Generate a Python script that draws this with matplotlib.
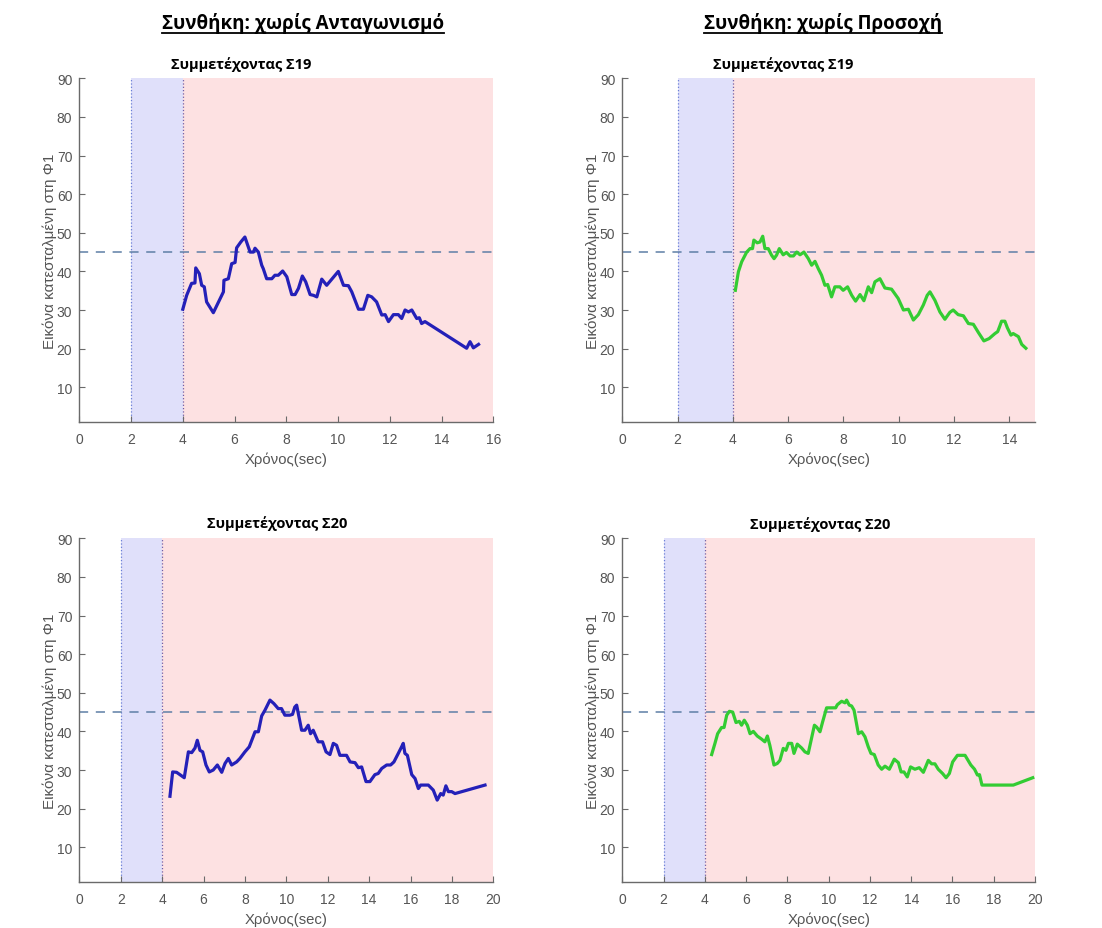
import numpy as np
import matplotlib.pyplot as plt
from matplotlib.lines import Line2D

plt.rcParams['font.family'] = ['Liberation Sans', 'DejaVu Sans']

# ======== data ========
# Σ19, condition: without competition (blue)
s19_comp_t = [4.0, 4.15, 4.34, 4.47, 4.5, 4.64, 4.73, 4.83, 4.92, 5.18, 5.57, 5.59, 5.76, 5.89,
              6.02, 6.08, 6.24, 6.4, 6.6, 6.73, 6.79, 6.92, 7.05, 7.11, 7.24, 7.44, 7.56, 7.69,
              7.86, 8.02, 8.21, 8.34, 8.47, 8.62, 8.75, 8.92, 9.05, 9.18, 9.37, 9.56, 9.76,
              10.01, 10.21, 10.4, 10.53, 10.79, 10.98, 11.15, 11.3, 11.49, 11.69, 11.82, 11.95,
              12.14, 12.33, 12.46, 12.59, 12.72, 12.85, 13.04, 13.14, 13.23, 13.36, 14.97,
              15.1, 15.23, 15.43]
s19_comp_v = [30.2, 33.8, 36.9, 37.0, 40.9, 39.4, 36.4, 36.0, 32.1, 29.3, 34.7, 37.7, 38.1, 42.0,
              42.3, 46.1, 47.6, 48.9, 45.0, 45.0, 46.0, 45.0, 41.6, 40.7, 38.1, 38.1, 39.0, 39.0,
              40.1, 38.6, 34.0, 34.0, 35.6, 38.8, 37.3, 34.0, 33.8, 33.4, 38.0, 36.4, 38.0,
              40.0, 36.4, 36.3, 34.7, 30.2, 30.2, 33.8, 33.4, 32.1, 28.7, 28.8, 27.0,
              28.8, 28.8, 27.8, 30.0, 29.5, 30.0, 27.8, 28.0, 26.5, 27.0, 20.1,
              21.8, 20.2, 21.1]

# Σ19, condition: without attention (green)
s19_att_t = [4.09, 4.2, 4.32, 4.5, 4.62, 4.71, 4.76, 4.88, 4.98, 5.08, 5.16, 5.28, 5.4, 5.49,
             5.58, 5.68, 5.82, 5.94, 6.07, 6.19, 6.31, 6.43, 6.57, 6.73, 6.85, 6.97, 7.09,
             7.21, 7.33, 7.43, 7.57, 7.69, 7.87, 7.99, 8.15, 8.3, 8.44, 8.6, 8.74, 8.9, 9.02,
             9.14, 9.32, 9.5, 9.74, 9.98, 10.17, 10.35, 10.53, 10.71, 10.89, 11.03, 11.13,
             11.31, 11.49, 11.67, 11.85, 11.97, 12.15, 12.34, 12.52, 12.7, 12.88, 13.08,
             13.27, 13.48, 13.58, 13.66, 13.72, 13.84, 13.93, 14.06, 14.14, 14.33, 14.45, 14.6]
s19_att_v = [35.1, 39.9, 42.5, 45.0, 45.9, 45.9, 48.1, 47.4, 47.6, 49.1, 45.9, 45.9, 44.2, 43.3,
             44.2, 45.9, 44.3, 44.9, 44.0, 44.0, 45.0, 44.3, 45.0, 43.3, 41.6, 42.6, 40.7,
             39.0, 36.4, 36.6, 33.4, 36.0, 36.0, 35.1, 36.0, 33.8, 32.3, 34.0, 32.4, 36.0, 34.5,
             37.3, 38.1, 35.7, 35.4, 33.0, 30.0, 30.2, 27.4, 28.8, 31.3, 33.8, 34.7,
             32.5, 29.5, 27.6, 29.4, 30.0, 28.8, 28.5, 26.5, 26.3, 24.2, 22.0,
             22.6, 23.9, 24.4, 25.9, 27.1, 27.1, 25.4, 23.5, 23.9, 23.1, 21.1, 20.1]

# Σ20, condition: without competition (blue)
s20_comp_t = [4.38, 4.51, 4.7, 4.86, 5.07, 5.27, 5.43, 5.59, 5.7, 5.83, 5.96, 6.12, 6.28, 6.47,
              6.67, 6.88, 7.04, 7.2, 7.36, 7.6, 7.76, 8.0, 8.21, 8.49, 8.65, 8.81, 8.97, 9.21,
              9.4, 9.61, 9.77, 9.93, 10.17, 10.3, 10.41, 10.5, 10.74, 10.9, 11.06, 11.17, 11.3,
              11.54, 11.75, 11.92, 12.11, 12.27, 12.43, 12.59, 12.91, 13.08, 13.32, 13.48,
              13.64, 13.85, 14.04, 14.28, 14.44, 14.61, 14.85, 15.04, 15.2, 15.41, 15.57,
              15.65, 15.73, 15.85, 16.06, 16.22, 16.38, 16.49, 16.86, 17.1, 17.29, 17.46,
              17.58, 17.71, 17.83, 17.99, 18.15, 19.6]
s20_comp_v = [23.2, 29.5, 29.4, 28.8, 28.0, 34.7, 34.5, 35.7, 37.7, 35.1, 34.7, 31.3, 29.5, 30.0,
              31.3, 29.4, 31.7, 33.0, 31.3, 32.1, 33.0, 34.7, 36.0, 39.9, 39.9, 44.0, 45.5, 48.1,
              47.2, 45.9, 45.9, 44.2, 44.2, 44.4, 46.3, 46.8, 40.3, 40.3, 41.6, 39.4, 40.3,
              37.3, 37.3, 34.7, 34.0, 36.9, 36.4, 33.8, 33.8, 32.1, 31.9, 30.6,
              30.8, 27.0, 27.0, 28.8, 29.1, 30.4, 31.3, 31.3, 32.1, 34.3, 36.0,
              36.9, 34.3, 33.8, 28.8, 27.8, 25.2, 26.1, 26.1, 24.8, 22.2, 23.9,
              23.5, 25.9, 24.4, 24.4, 23.9, 26.1]

# Σ20, condition: without attention (green)
s20_att_t = [4.33, 4.49, 4.62, 4.81, 4.93, 5.06, 5.19, 5.35, 5.51, 5.67, 5.78, 5.91, 6.06, 6.19,
             6.35, 6.54, 6.75, 6.91, 7.03, 7.15, 7.35, 7.51, 7.64, 7.8, 7.93, 8.05, 8.21, 8.32,
             8.48, 8.69, 8.85, 9.01, 9.31, 9.42, 9.58, 9.71, 9.9, 10.15, 10.34, 10.42, 10.63,
             10.79, 10.87, 11.0, 11.11, 11.23, 11.44, 11.6, 11.76, 11.92, 12.05, 12.21, 12.4,
             12.57, 12.73, 12.94, 13.18, 13.38, 13.51, 13.65, 13.81, 13.97, 14.18, 14.39,
             14.59, 14.83, 14.99, 15.15, 15.31, 15.52, 15.69, 15.85, 16.01, 16.24, 16.61,
             16.89, 17.07, 17.21, 17.31, 17.43, 18.6, 18.95, 19.89]
s20_att_v = [34.0, 36.9, 39.4, 41.0, 41.0, 44.2, 45.2, 45.0, 42.3, 42.6, 41.6, 42.9, 41.6, 39.4,
             40.0, 38.8, 38.0, 37.3, 38.8, 36.4, 31.3, 31.7, 32.5, 35.6, 35.1, 36.9, 36.9, 34.3,
             36.7, 35.7, 34.7, 34.3, 41.6, 41.1, 39.9, 42.5, 46.1, 46.1, 46.1, 46.9, 47.8,
             47.4, 48.1, 46.8, 46.6, 45.5, 39.4, 39.9, 38.6, 36.0, 34.3, 34.0, 31.3,
             30.2, 31.0, 30.2, 32.8, 31.9, 29.5, 29.5, 28.2, 30.8, 30.2, 30.6,
             29.4, 32.5, 31.6, 31.6, 30.2, 29.1, 28.0, 29.1, 32.1, 33.8, 33.8,
             31.3, 30.2, 28.7, 28.8, 26.1, 26.1, 26.1, 28.0]

col_titles = ["Συνθήκη: χωρίς Ανταγωνισμό", "Συνθήκη: χωρίς Προσοχή"]
panel_titles = ["Συμμετέχοντας Σ19", "Συμμετέχοντας Σ19", "Συμμετέχοντας Σ20", "Συμμετέχοντας Σ20"]
x_maxes = [16, 14.93, 20, 20]
threshold = 45
# =============================================

W, H = 1102, 929
fig = plt.figure(figsize=(W / 100, H / 100), dpi=100)

# pixel boxes (left, top, right, bottom)
boxes = [(79.3, 79.3, 493.3, 423), (622.3, 79.3, 1035, 423),
         (79.3, 539.3, 493.3, 883), (622.3, 539.3, 1035, 883)]
title_pos = [(241, 65), (783, 65), (277, 524), (820, 525)]
series = [(s19_comp_t, s19_comp_v, '#2420b8'), (s19_att_t, s19_att_v, '#33cc33'),
          (s20_comp_t, s20_comp_v, '#2420b8'), (s20_att_t, s20_att_v, '#33cc33')]

gray = '#6a6a6a'
for i, (l, t, r, b) in enumerate(boxes):
    ax = fig.add_axes([l / W, (H - b) / H, (r - l) / W, (b - t) / H])
    xmax = x_maxes[i]
    ax.axvspan(2, 4, color='#e0e0fa', lw=0, zorder=0)
    ax.axvspan(4, xmax, color='#fde1e2', lw=0, zorder=0)
    ax.axvline(2, color='#6b80d6', ls=':', lw=0.9, zorder=1)
    ax.axvline(4, color='#6f5ea6', ls=':', lw=0.9, zorder=1)
    ax.axhline(threshold, color='#5e7fa6', lw=1.1, dashes=(6, 5), zorder=2)
    tt, vv, c = series[i]
    ax.plot(tt, vv, color=c, lw=2.3, zorder=3, solid_joinstyle='round')

    ax.set_xlim(0, xmax)
    ax.set_ylim(1, 90)
    ax.set_xticks(np.arange(0, int(xmax) + 1, 2))
    ax.set_yticks(np.arange(10, 91, 10))
    ax.tick_params(direction='in', length=4, color=gray, labelcolor='#555555', labelsize=10)
    ax.tick_params(axis='x', pad=7)
    ax.tick_params(axis='y', pad=5)
    for s in ['top', 'right']:
        ax.spines[s].set_visible(False)
    for s in ['left', 'bottom']:
        ax.spines[s].set_color(gray)
        ax.spines[s].set_linewidth(1.0)
    ax.set_xlabel("Χρόνος(sec)", fontsize=10.7, color='#555555', labelpad=4)
    ax.set_ylabel("Εικόνα κατεσταλμένη στη Φ1", fontsize=11, color='#555555', labelpad=0)

    tx, ty = title_pos[i]
    fig.text(tx / W, 1 - ty / H, panel_titles[i], ha='center', va='center',
             fontsize=10.5, fontweight='bold', family=['Open Sans', 'DejaVu Sans'])

# column headers with underline
headers = []
for cx, txt in zip([303, 823], col_titles):
    headers.append(fig.text(cx / W, 1 - 24 / H, txt, ha='center', va='center',
                            fontsize=13.5, fontweight='bold', family=['Open Sans', 'DejaVu Sans']))

fig.canvas.draw()
renderer = fig.canvas.get_renderer()
for h in headers:
    bb = h.get_window_extent(renderer)
    y = (bb.y0 + 1) / H
    fig.lines.append(Line2D([bb.x0 / W, bb.x1 / W], [y, y], transform=fig.transFigure,
                            color='black', lw=1.3))

fig.savefig("out.png", dpi=100)
